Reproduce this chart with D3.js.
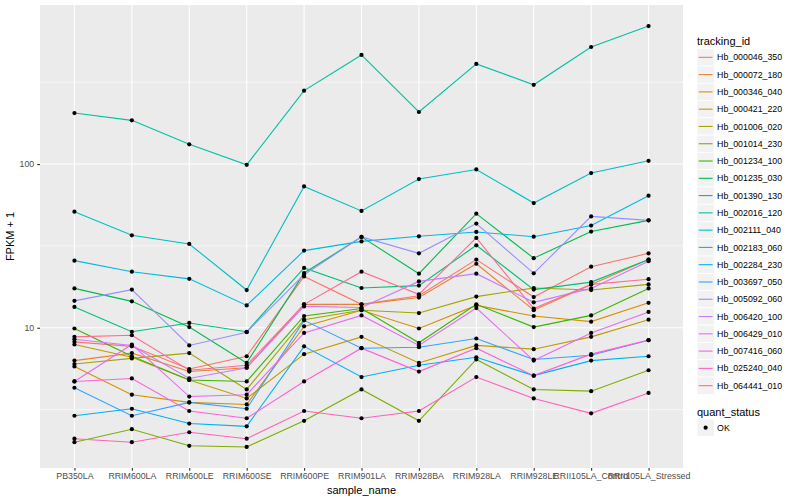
<!DOCTYPE html>
<html><head><meta charset="utf-8">
<script src="https://cdn.jsdelivr.net/npm/d3@7"></script>
<style>body{margin:0;background:#fff}svg{display:block}text{font-family:"Liberation Sans",Arial,Helvetica,sans-serif}</style>
</head><body><svg id="c" width="800" height="500"></svg>
<script>
const categories = ["PB350LA","RRIM600LA","RRIM600LE","RRIM600SE","RRIM600PE","RRIM901LA","RRIM928BA","RRIM928LA","RRIM928LE","RRII105LA_Control","RRII105LA_Stressed"];
const trackingIds = ["Hb_000046_350","Hb_000072_180","Hb_000346_040","Hb_000421_220","Hb_001006_020","Hb_001014_230","Hb_001234_100","Hb_001235_030","Hb_001390_130","Hb_002016_120","Hb_002111_040","Hb_002183_060","Hb_002284_230","Hb_003697_050","Hb_005092_060","Hb_006420_100","Hb_006429_010","Hb_007416_060","Hb_025240_040","Hb_064441_010"];
const colors = ["#F8766D","#EA8331","#D89000","#C09B00","#A3A500","#7CAE00","#39B600","#00BB4E","#00BF7D","#00C1A3","#00BFC4","#00BAE0","#00B0F6","#35A2FF","#9590FF","#C77CFF","#E76BF3","#FA62DB","#FF62BC","#FF6C91"];
// FPKM + 1 per tracking id, in category order
const Hb_000046_350 = [8.2, 7.7, 5.6, 6.7, 20.6, 13.9, 15.7, 26.1, 15.4, 23.6, 28.5];
const Hb_000072_180 = [6.3, 7.0, 5.4, 5.7, 13.9, 13.9, 15.3, 24.6, 12.8, 18.4, 26.1];
const Hb_000346_040 = [5.8, 3.9, 3.5, 3.4, 10.2, 12.8, 9.9, 13.7, 11.8, 10.9, 14.2];
const Hb_000421_220 = [7.9, 6.6, 4.8, 3.7, 6.9, 8.8, 6.1, 7.8, 7.4, 8.8, 11.2];
const Hb_001006_020 = [6.0, 6.5, 7.0, 4.2, 11.2, 12.8, 12.3, 15.5, 17.5, 17.0, 18.4];
const Hb_001014_230 = [2.0, 2.4, 1.9, 1.87, 2.7, 4.2, 2.7, 6.4, 4.2, 4.1, 5.5];
const Hb_001234_100 = [9.9, 6.7, 4.8, 4.7, 11.8, 13.1, 8.1, 13.9, 10.1, 11.9, 17.4];
const Hb_001235_030 = [17.4, 14.5, 10.1, 6.1, 21.6, 35.9, 21.4, 49.8, 26.6, 38.7, 45.3];
const Hb_001390_130 = [13.4, 9.45, 10.7, 9.45, 23.2, 17.5, 18.1, 31.9, 17.1, 19.0, 26.1];
const Hb_002016_120 = [205, 185, 132, 99, 281, 464, 208, 409, 305, 519, 697];
const Hb_002111_040 = [51.2, 36.7, 32.5, 17.0, 73.0, 51.7, 81.0, 92.7, 57.8, 88.1, 104.7];
const Hb_002183_060 = [25.7, 22.0, 19.9, 13.7, 29.6, 33.7, 36.2, 38.5, 36.0, 42.1, 64.1];
const Hb_002284_230 = [2.9, 3.2, 2.6, 2.5, 7.7, 5.0, 5.9, 6.6, 5.1, 6.3, 6.7];
const Hb_003697_050 = [4.3, 2.9, 3.5, 3.2, 11.1, 7.5, 7.6, 8.6, 6.4, 6.8, 8.4];
const Hb_005092_060 = [14.6, 17.1, 7.8, 9.4, 21.1, 35.9, 28.5, 43.3, 21.5, 47.9, 45.3];
const Hb_006420_100 = [8.5, 7.8, 4.9, 5.7, 13.5, 13.3, 19.2, 21.4, 14.3, 17.4, 25.5];
const Hb_006429_010 = [4.7, 7.9, 3.8, 3.9, 9.3, 11.9, 7.8, 13.2, 6.3, 9.3, 12.5];
const Hb_007416_060 = [4.7, 4.9, 3.1, 2.8, 4.7, 7.5, 5.4, 7.5, 5.1, 6.9, 8.4];
const Hb_025240_040 = [2.1, 2.0, 2.3, 2.1, 3.1, 2.8, 3.1, 5.0, 3.7, 3.0, 4.0];
const Hb_064441_010 = [8.8, 9.0, 5.5, 5.9, 13.9, 22.0, 16.0, 35.4, 13.1, 18.4, 19.8];
const seriesValues = [Hb_000046_350,Hb_000072_180,Hb_000346_040,Hb_000421_220,Hb_001006_020,Hb_001014_230,Hb_001234_100,Hb_001235_030,Hb_001390_130,Hb_002016_120,Hb_002111_040,Hb_002183_060,Hb_002284_230,Hb_003697_050,Hb_005092_060,Hb_006420_100,Hb_006429_010,Hb_007416_060,Hb_025240_040,Hb_064441_010];
const yTicks = [10, 100];
const yMinor = [Math.sqrt(10), Math.sqrt(1000), Math.sqrt(100000)];
const statusLevels = ["OK"];

const svg = d3.select("#c");
const P = {l: 40, r: 683, t: 5, b: 468};
const x = d3.scalePoint().domain(categories).range([P.l, P.r]).padding(0.6);
const all = seriesValues.flat();
const lmin = Math.log10(d3.min(all)), lmax = Math.log10(d3.max(all));
const ext = 0.05 * (lmax - lmin);
const y = d3.scaleLog().domain([Math.pow(10, lmin - ext), Math.pow(10, lmax + ext)]).range([P.b, P.t]);

svg.append("rect").attr("width", 800).attr("height", 500).attr("fill", "#fff");
svg.append("rect").attr("x", P.l).attr("y", P.t).attr("width", P.r - P.l).attr("height", P.b - P.t).attr("fill", "#EBEBEB");
const g = svg.append("g");
g.selectAll(".mn").data(yMinor.filter(v => y(v) > P.t && y(v) < P.b)).join("line")
  .attr("x1", P.l).attr("x2", P.r).attr("y1", d => y(d)).attr("y2", d => y(d)).attr("stroke", "#fff").attr("stroke-width", 0.55);
g.selectAll(".mj").data(yTicks).join("line")
  .attr("x1", P.l).attr("x2", P.r).attr("y1", d => y(d)).attr("y2", d => y(d)).attr("stroke", "#fff").attr("stroke-width", 1.1);
g.selectAll(".vx").data(categories).join("line")
  .attr("x1", d => x(d)).attr("x2", d => x(d)).attr("y1", P.t).attr("y2", P.b).attr("stroke", "#fff").attr("stroke-width", 1.1);

const line = d3.line().x((d, i) => x(categories[i])).y(d => y(d));
svg.append("g").selectAll("path").data(seriesValues).join("path")
  .attr("d", d => line(d)).attr("fill", "none").attr("stroke", (d, i) => colors[i]).attr("stroke-width", 1.1);
const pts = [];
seriesValues.forEach(s => s.forEach((v, i) => pts.push({c: categories[i], v})));
svg.append("g").selectAll("circle").data(pts).join("circle")
  .attr("cx", d => x(d.c)).attr("cy", d => y(d.v)).attr("r", 2.1).attr("fill", "#000");

// axes
const ya = svg.append("g").attr("transform", `translate(${P.l},0)`)
  .call(d3.axisLeft(y).tickValues(yTicks).tickFormat(d3.format("d")).tickSize(2.75).tickPadding(3));
const xa = svg.append("g").attr("transform", `translate(0,${P.b})`)
  .call(d3.axisBottom(x).tickSize(2.75).tickPadding(2.2));
[ya, xa].forEach(a => {
  a.select(".domain").remove();
  a.selectAll(".tick line").attr("stroke", "#333333").attr("stroke-width", 1.1);
  a.selectAll(".tick text").attr("fill", "#4D4D4D").style("font-size", "8.8px");
});
svg.append("text").attr("x", (P.l + P.r) / 2).attr("y", 494).attr("text-anchor", "middle")
  .style("font-size", "11px").attr("fill", "#000").text("sample_name");
svg.append("text").attr("transform", `translate(14,${(P.t + P.b) / 2}) rotate(-90)`).attr("text-anchor", "middle")
  .style("font-size", "11px").attr("fill", "#000").text("FPKM + 1");

// legend
const L = svg.append("g");
const kx = 697, ks = 17.28, k0 = 48.7;
L.append("text").attr("x", kx).attr("y", 44.5).style("font-size", "11px").text("tracking_id");
trackingIds.forEach((id, i) => {
  const ky = k0 + i * ks;
  L.append("rect").attr("x", kx).attr("y", ky).attr("width", ks).attr("height", ks).attr("fill", "#F2F2F2").attr("stroke", "#fff").attr("stroke-width", 0.8);
  L.append("line").attr("x1", kx + 1.7).attr("x2", kx + ks - 1.7).attr("y1", ky + ks / 2).attr("y2", ky + ks / 2).attr("stroke", colors[i]).attr("stroke-width", 1.1);
  L.append("text").attr("x", kx + ks + 2.8).attr("y", ky + ks / 2).attr("dy", "0.35em").style("font-size", "8.8px").attr("fill", "#000").text(id);
});
L.append("text").attr("x", kx).attr("y", 416).style("font-size", "11px").text("quant_status");
statusLevels.forEach((s, i) => {
  const ky = 419 + i * ks;
  L.append("rect").attr("x", kx).attr("y", ky).attr("width", ks).attr("height", ks).attr("fill", "#F2F2F2").attr("stroke", "#fff").attr("stroke-width", 0.8);
  L.append("circle").attr("cx", kx + ks / 2).attr("cy", ky + ks / 2).attr("r", 2.1).attr("fill", "#000");
  L.append("text").attr("x", kx + ks + 2.8).attr("y", ky + ks / 2).attr("dy", "0.35em").style("font-size", "8.8px").text(s);
});
</script></body></html>
